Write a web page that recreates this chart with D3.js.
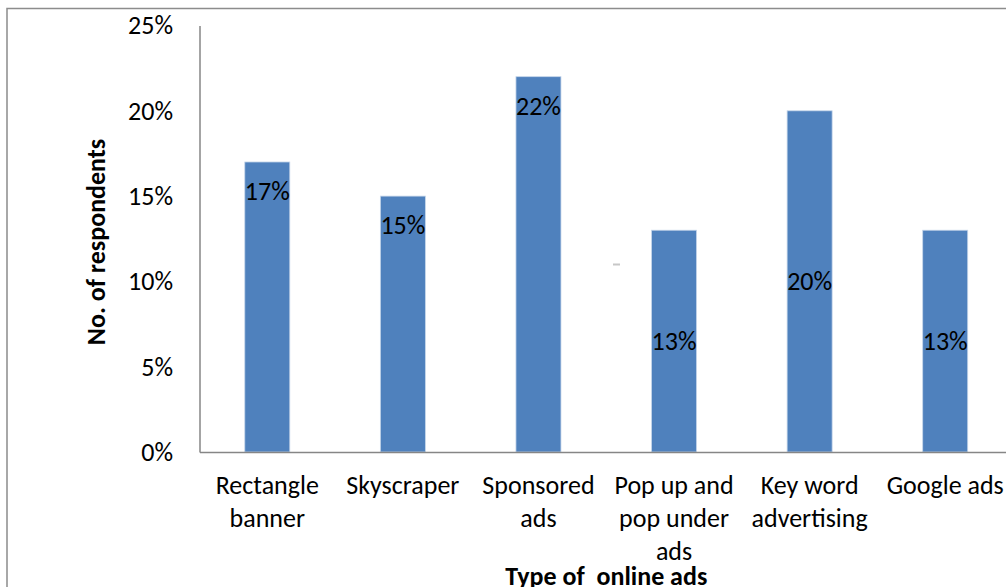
<!DOCTYPE html>
<html>
<head>
<meta charset="utf-8">
<script src="https://cdn.jsdelivr.net/npm/d3@7"></script>
<style>
  html, body { margin: 0; padding: 0; background: #fff; }
  svg { display: block; }
  text { font-family: Carlito, Calibri, Lato, "Open Sans", sans-serif; fill: #000; }
</style>
</head>
<body>
<svg id="chart" width="1006" height="587"></svg>
<script>
// Share of respondents by type of online ad
const categories = ["Rectangle banner", "Skyscraper", "Sponsored ads", "Pop up and pop under ads", "Key word advertising", "Google ads"];
const categoryLines = [["Rectangle", "banner"], ["Skyscraper"], ["Sponsored", "ads"], ["Pop up and", "pop under", "ads"], ["Key word", "advertising"], ["Google ads"]];
const values = [17, 15, 22, 13, 20, 13];
const labelPlacement = ["insideEnd", "insideEnd", "insideEnd", "center", "center", "center"];
const yTicks = [0, 5, 10, 15, 20, 25];

const svg = d3.select("#chart");
const W = 1006, H = 587;
const FS = 26;

// outer chart frame (runs off the right and bottom edges)
svg.append("rect")
  .attr("x", 7).attr("y", 8.5)
  .attr("width", W + 20).attr("height", H + 20)
  .attr("fill", "#fff").attr("stroke", "#8c8c8c").attr("stroke-width", 1.5);

const plot = { left: 199.5, right: 1013, top: 25.5, bottom: 452 };

const x = d3.scaleBand()
  .domain(categories)
  .range([plot.left, plot.right])
  .paddingInner(0.668)
  .paddingOuter(0.334);

const y = d3.scaleLinear().domain([0, 25]).range([plot.bottom, plot.top]);

// bars
svg.append("g").selectAll("rect")
  .data(categories)
  .join("rect")
  .attr("x", d => x(d))
  .attr("width", x.bandwidth())
  .attr("y", (d, i) => y(values[i]))
  .attr("height", (d, i) => y(0) - y(values[i]))
  .attr("fill", "#4f81bd")
  .attr("stroke", "#c6d6ea")
  .attr("stroke-width", 0.8);

// value labels
svg.append("g").selectAll("text")
  .data(categories)
  .join("text")
  .attr("x", d => x(d) + x.bandwidth() / 2)
  .attr("y", (d, i) => labelPlacement[i] === "center"
      ? (y(values[i]) + y(0)) / 2
      : y(values[i]) + 29)
  .attr("text-anchor", "middle")
  .attr("dominant-baseline", "central")
  .attr("font-size", FS)
  .text((d, i) => values[i] + "%");

// y axis
const yAxis = d3.axisLeft(y)
  .tickValues(yTicks)
  .tickFormat(d => d + "%")
  .tickSize(0)
  .tickPadding(26.5);
const gy = svg.append("g").attr("transform", `translate(${plot.left},0)`).call(yAxis);
gy.select(".domain").attr("stroke", "#868686").attr("stroke-width", 1.5);
gy.selectAll(".tick text").attr("font-size", FS).attr("fill", "#000")
  .style("font-family", "Carlito, Calibri, Lato, 'Open Sans', sans-serif");

// x axis
const xAxis = d3.axisBottom(x).tickSize(0).tickFormat("");
const gx = svg.append("g").attr("transform", `translate(0,${plot.bottom})`).call(xAxis);
gx.select(".domain").attr("stroke", "#868686").attr("stroke-width", 1.5);

// wrapped category labels
const lineH = 33;
gx.selectAll(".tick").each(function (d) {
  const i = categories.indexOf(d);
  const t = d3.select(this).append("text")
    .attr("text-anchor", "middle")
    .attr("font-size", FS)
    .attr("fill", "#000");
  categoryLines[i].forEach((ln, k) => {
    t.append("tspan").attr("x", 0).attr("y", 42 + k * lineH).text(ln);
  });
});

// axis titles
svg.append("text")
  .attr("x", (plot.left + plot.right) / 2)
  .attr("y", 584.5)
  .attr("text-anchor", "middle")
  .attr("font-size", FS)
  .attr("font-weight", "bold")
  .attr("xml:space", "preserve")
  .style("white-space", "pre")
  .text("Type of  online ads");

svg.append("text")
  .attr("transform", "translate(105,242) rotate(-90)")
  .attr("text-anchor", "middle")
  .attr("font-size", FS)
  .attr("font-weight", "bold")
  .text("No. of respondents");

// small grey speck inside the plot area
svg.append("line")
  .attr("x1", 613).attr("x2", 620)
  .attr("y1", 264.5).attr("y2", 264.5)
  .attr("stroke", "#b0b0b0").attr("stroke-width", 2)
  .attr("opacity", 0.7);
</script>
</body>
</html>
